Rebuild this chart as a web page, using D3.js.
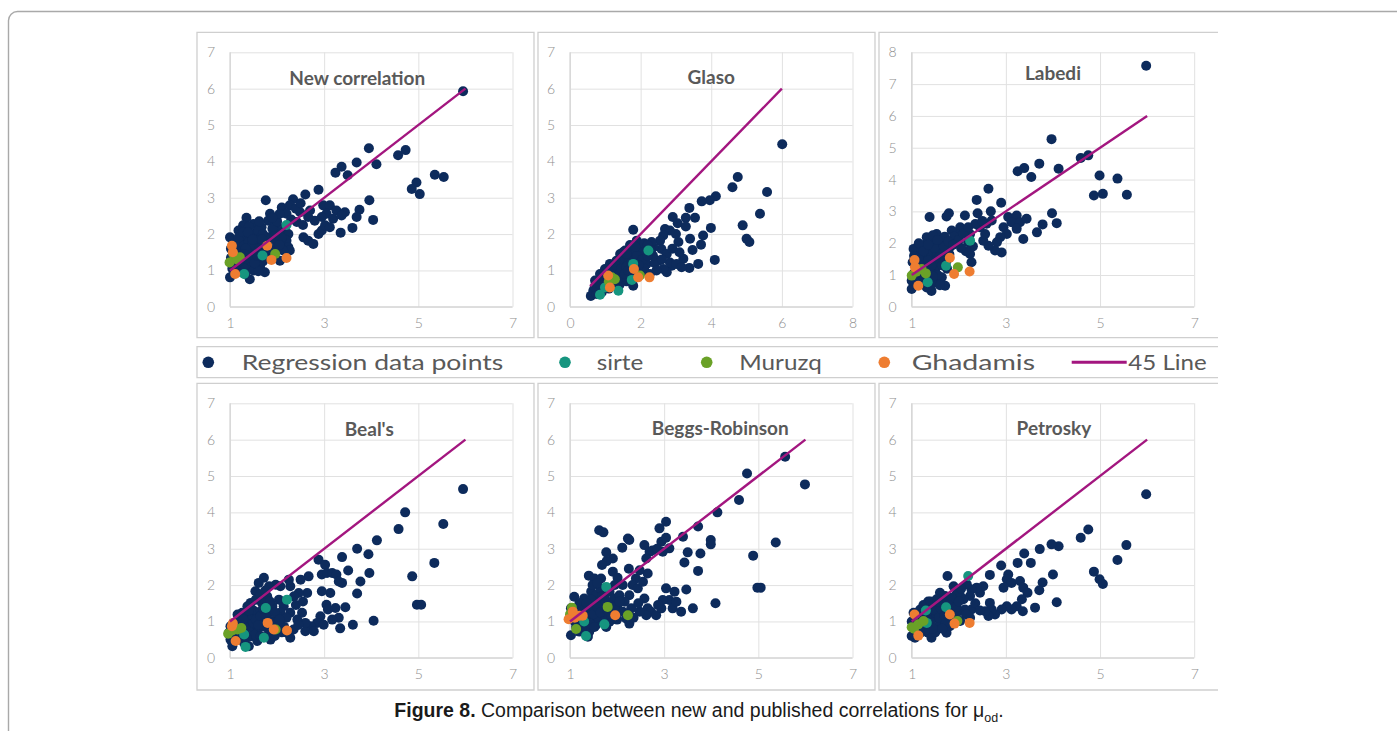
<!DOCTYPE html>
<html><head><meta charset="utf-8">
<script src="https://cdn.jsdelivr.net/npm/d3@7"></script>
<style>body{margin:0;background:#fff}svg{display:block}</style>
</head><body>
<svg id="fig" width="1397" height="731"></svg>
<script>
// ---------------- DATA ----------------
const panelTitles = ["New correlation","Glaso","Labedi","Beal's","Beggs-Robinson","Petrosky"];
const legendLabels = ["Regression data points","sirte","Muruzq","Ghadamis","45 Line"];
const xTicksStd = [1,3,5,7];
const xTicksGlaso = [0,2,4,6,8];
const yTicks7 = [0,1,2,3,4,5,6,7];
const yTicks8 = [0,1,2,3,4,5,6,7,8];
const lineStart = [1,0.57,1,1,1,1];
const lineEnd = [6,6,6,6,6,6];

const regNew = [[5.95,5.93],[3.95,4.36],[3.69,3.97],[4.11,3.92],[3.37,3.85],[3.24,3.69],[3.5,3.62],[4.57,4.17],[4.73,4.31],[5.35,3.63],[5.54,3.57],[4.96,3.42],[4.86,3.24],[5.03,3.1],[3.96,2.93],[4.04,2.39],[3.75,2.67],[3.69,2.47],[3.6,2.17],[3.35,2.04],[2.88,3.22],[2.6,3.09],[2.34,2.96],[1.76,2.93],[2.1,2.73],
[2.98,2.79],[3.12,2.79],[3.05,2.56],[3.26,2.65],[3.44,2.6],[3.19,2.42],[3.37,2.51],[2.95,2.47],[2.8,2.37],[2.7,2.65],[2.49,2.6],[2.66,2.47],[2.42,2.33],[2.56,1.91],[2.66,1.82],[2.77,1.73],[2.88,2.0],[2.95,2.1],[3.02,2.24],[3.12,2.19],[2.27,2.79],[2.2,2.56],[2.17,2.19],[2.24,2.0],[2.2,1.82],[2.24,1.64],[2.27,1.55],[1.99,2.28],[1.92,2.0],[1.85,2.56],[1.81,2.37],[1.67,2.19],[1.57,2.05],[1.5,2.28],[1.35,2.45],[1.28,2.24],[1.18,2.1],[1.0,1.91],[1.07,1.82],[1.21,1.78],[1.35,1.91],[1.42,1.64],[1.5,1.45],[1.57,1.27],[1.64,1.09],[1.74,0.95],[1.42,0.76],[1.32,0.9],[1.21,1.09],[1.0,0.81],[1.07,1.27],[1.14,1.45],[1.78,1.45],[1.85,1.55],[1.92,1.36],[1.67,1.64],[1.6,1.82],[1.78,1.91],[1.99,1.82],[2.06,2.05],[2.13,1.55],[2.06,1.27],
[1.1,1.6],[1.15,1.7],[1.25,1.55],[1.3,1.7],[1.4,1.8],[1.45,2.0],[1.55,1.9],[1.6,2.1],[1.7,2.0],[1.25,1.35],[1.35,1.25],[1.45,1.1],[1.55,1.55],[1.65,1.45],[1.72,1.7],[1.9,2.15],[2.0,2.35],[1.3,1.05],[1.15,0.95],[1.5,1.0],[1.6,0.98],[1.05,1.05],[1.2,1.25],[1.38,1.5],[1.48,1.72],[1.95,1.6],[2.1,1.9],[2.4,2.7],[2.5,2.85],[2.55,2.25],[2.3,2.4],[1.08,1.5],[1.7,1.25],[1.8,1.75],[2.05,2.55],[1.4,2.2],[1.62,2.35],[1.9,2.45],
[1.12,1.15],[1.22,1.45],[1.33,1.6],[1.43,1.35],[1.52,1.2],[1.62,1.6],[1.75,1.55],[1.85,1.85],[1.95,1.95],[2.05,1.7],[1.18,1.9],[1.28,2.05],[1.38,2.05],[1.48,1.85],[1.68,1.85],[1.58,1.4],[1.02,1.35],[1.02,1.6],[1.12,1.35],[1.3,1.45]];
const sirteNew = [[1.3,0.9],[1.69,1.41],[2.2,2.25]];
const muruzqNew = [[0.99,1.22],[1.21,1.36],[1.07,1.45],[1.96,1.45],[1.15,1.3]];
const ghadNew = [[1.04,1.68],[1.06,1.5],[1.11,0.9],[1.88,1.29],[2.2,1.34],[1.79,1.68]];

const regGlaso = [[6.01,4.47],[5.58,3.16],[5.38,2.56],[4.75,3.57],[4.6,3.29],[4.89,2.24],[5.0,1.87],[5.08,1.78],[4.13,3.04],[3.96,2.93],[4.1,1.29],[3.99,2.17],[3.73,2.9],[3.38,2.72],[3.54,2.45],[3.28,2.45],[2.91,2.47],[3.05,2.3],[3.28,2.21],[3.77,1.96],[3.71,1.71],[3.4,1.87],[3.47,1.56],[3.63,1.18],[3.38,1.07],[3.21,1.32],[3.07,1.78],[3.0,2.0],[2.83,2.1],[2.69,2.14],[2.64,1.96],[2.55,1.82],[2.59,1.59],[2.74,1.45],[2.88,1.13],[2.74,0.95],[2.64,1.04],[2.83,1.22],[3.02,1.18],[3.16,1.09],[2.5,1.27],[2.36,1.64],[2.31,1.78],[2.17,1.55],[2.08,1.41],[1.98,1.27],[2.17,1.18],[2.26,0.9],[2.03,0.95],[1.79,2.12],[1.89,1.82],[1.68,1.55],[1.56,1.55],[1.42,1.45],[1.32,1.27],[1.13,1.18],[0.99,1.04],[0.85,0.9],[0.71,0.72],[0.59,0.3],[0.66,0.44],[0.8,0.53],[0.94,0.63],[1.13,0.72],[1.27,0.81],[1.42,0.9],[1.56,0.99],[1.7,1.09],[1.79,0.58],[1.75,0.81],[1.6,1.27],[1.7,1.41],[1.79,1.45],[1.23,0.99],[1.08,0.9],[0.9,0.4],[0.75,0.35],[1.37,1.09],[1.51,1.18],
[1.2,1.1],[1.3,1.0],[1.45,1.2],[1.55,1.35],[1.65,1.2],[1.85,1.3],[1.9,1.1],[2.0,1.6],[2.1,1.75],[2.2,1.7],[1.95,1.5],[1.5,0.8],[1.6,0.7],[1.4,0.6],[1.25,0.6],[1.0,0.8],[0.9,0.7],[1.1,0.5],[1.85,0.95],[2.1,1.05],[2.4,1.2],[2.35,1.4],[1.7,1.7],[1.8,1.6],[1.5,1.5],[1.15,0.95],[2.45,1.0],[2.6,1.3],[2.9,1.6],[3.1,1.5],
[0.7,0.55],[0.85,0.6],[0.95,0.85],[1.05,1.0],[1.15,1.05],[1.3,1.15],[1.45,1.05],[1.6,1.1],[1.75,1.25],[1.9,1.4],[2.05,1.3],[2.2,1.4],[1.35,0.75],[1.55,0.9],[1.65,1.0],[1.05,0.65],[1.95,1.15],[2.3,1.55],[1.85,1.65],[1.6,1.45]];
const sirteGlaso = [[0.85,0.33],[0.99,0.53],[1.37,0.44],[1.75,0.74],[2.22,1.55],[1.79,1.18]];
const muruzqGlaso = [[1.27,0.76],[1.18,0.81],[1.98,0.86],[1.1,0.7]];
const ghadGlaso = [[1.13,0.53],[1.81,1.04],[1.93,0.81],[2.25,0.81],[1.08,0.86]];

const regLabedi = [[5.98,7.58],[3.97,5.27],[3.25,4.26],[3.39,4.36],[3.71,4.5],[3.54,4.08],[4.12,4.34],[4.59,4.68],[4.75,4.76],[4.99,4.13],[4.87,3.5],[5.06,3.55],[5.37,4.03],[5.57,3.52],[3.98,2.94],[4.08,2.63],[3.78,2.59],[3.66,2.34],[3.37,2.13],[2.63,3.71],[2.38,3.36],[2.9,3.27],[2.68,3.0],[2.4,2.94],[2.13,2.87],[1.79,2.94],[1.38,2.82],[1.74,2.84],[3.05,2.82],[3.23,2.87],[3.12,2.66],[3.3,2.66],[3.44,2.77],[2.95,2.5],[3.23,2.45],[3.02,2.29],[2.88,2.19],[2.81,2.03],[2.91,1.71],[2.77,1.77],[2.63,1.92],[2.52,2.08],[2.56,2.29],[2.45,2.5],[2.59,2.61],[2.7,2.71],[2.24,2.29],[2.2,2.03],[2.24,1.66],[2.27,1.4],[2.03,2.5],[1.96,2.29],[1.85,2.4],[1.96,2.03],[1.81,1.87],[1.71,1.66],[1.74,1.45],[1.64,0.93],[1.71,0.66],[1.42,0.5],[1.32,0.61],[1.0,0.56],[1.0,0.82],[1.04,1.82],[1.18,1.66],[1.32,2.19],[1.46,2.08],[1.53,2.29],[1.6,1.87],[1.39,1.45],[1.5,1.19],[1.25,1.03],[1.53,0.93],[1.11,1.24],[1.18,1.4],
[1.1,1.5],[1.2,1.8],[1.28,1.95],[1.4,1.75],[1.45,1.6],[1.55,1.65],[1.6,1.4],[1.65,2.05],[1.7,2.2],[1.9,2.2],[2.0,2.1],[2.1,2.3],[1.3,1.3],[1.4,1.1],[1.2,1.15],[1.05,1.05],[1.1,0.85],[1.35,0.85],[1.55,1.0],[1.75,1.2],[1.5,1.45],[1.25,1.55],[1.15,2.0],[1.05,1.6],[1.62,1.7],[1.8,1.65],[2.3,1.9],[2.35,2.6],[2.5,2.7],[2.2,2.5],[1.45,0.75],[1.6,0.68],[2.15,1.75],[1.33,1.7],
[1.08,1.3],[1.15,1.55],[1.22,1.3],[1.35,1.45],[1.42,1.3],[1.48,1.85],[1.58,1.55],[1.68,1.9],[1.78,2.05],[1.88,1.95],[1.25,1.75],[1.35,1.95],[1.45,2.25],[1.55,2.1],[1.02,1.4],[1.15,1.2],[1.65,1.3],[1.45,0.95],[1.25,0.85],[2.05,1.85]];
const sirteLabedi = [[1.34,0.77],[1.73,1.29],[2.24,2.08]];
const muruzqLabedi = [[1.0,0.98],[1.21,1.19],[1.98,1.24],[1.1,1.1],[1.3,1.05]];
const ghadLabedi = [[1.06,1.47],[1.07,1.24],[1.14,0.66],[1.81,1.54],[1.9,1.03],[2.23,1.11]];

const regBeal = [[5.95,4.64],[4.72,4.0],[4.58,3.54],[4.12,3.23],[3.7,3.0],[3.94,2.85],[3.38,2.77],[3.96,2.33],[3.77,2.1],[3.51,2.4],[3.7,1.77],[4.05,1.02],[3.61,0.91],[5.53,3.68],[5.34,2.61],[4.87,2.24],[4.97,1.46],[5.06,1.46],[2.88,2.7],[3.02,2.56],[2.95,2.29],[3.06,2.33],[3.17,2.33],[3.26,2.29],[3.38,2.06],[3.31,2.1],[3.13,1.78],[2.95,1.83],[3.05,1.46],[3.08,1.33],[3.24,1.37],[3.45,1.39],[3.31,1.1],[3.17,1.05],[3.34,0.81],[2.92,1.14],[2.85,0.96],[2.99,0.91],[2.71,0.87],[2.6,0.73],[2.78,0.73],[2.6,0.96],[2.53,1.24],[2.64,1.78],[2.67,2.24],[2.5,2.15],[2.46,1.78],[2.36,1.69],[2.28,1.97],[2.25,2.15],[2.07,1.97],[1.97,2.01],[1.83,1.97],[1.72,2.2],[1.61,2.06],[1.54,1.83],[1.79,1.69],[2.04,1.6],[2.14,1.42],[1.9,1.42],[1.68,1.51],[1.44,1.51],[1.37,1.42],[1.26,1.24],[1.16,1.19],[1.08,0.96],[1.01,0.87],[0.98,0.69],[1.01,0.5],[1.05,0.32],[1.16,0.5],[1.3,0.41],[1.44,0.59],[1.58,0.78],[1.68,0.96],[1.83,0.69],[1.86,0.5],[2.0,0.78],[2.07,0.96],[2.21,0.69],[2.28,0.55],[2.35,0.78],[2.43,1.05],[2.07,1.24],[2.28,1.24],[1.58,1.14],[1.44,0.96],[1.3,0.96],[1.23,0.69],[1.12,0.5],[1.4,0.32],[1.58,0.46],
[1.5,1.3],[1.6,1.25],[1.7,1.1],[1.8,1.2],[1.9,1.0],[2.0,1.15],[1.35,1.1],[1.25,0.85],[1.5,0.65],[1.65,0.6],[1.75,0.85],[1.95,0.6],[2.15,0.85],[1.2,1.05],[1.1,0.75],[1.45,1.25],[1.55,1.6],[1.65,1.75],[1.75,1.4],[1.85,1.55],[2.2,1.1],[2.4,1.45],[2.55,1.55],[2.45,0.9],
[1.1,0.95],[1.15,0.65],[1.2,0.9],[1.3,0.75],[1.35,0.55],[1.4,0.85],[1.45,1.05],[1.5,0.95],[1.55,1.05],[1.65,1.15],[1.7,1.35],[1.8,1.0],[1.85,0.85],[1.95,1.25],[2.05,1.05],[2.1,0.7],[1.6,0.9],[1.4,1.3],[1.28,1.05],[1.75,1.85]];
const sirteBeal = [[1.3,0.64],[1.33,0.3],[1.72,0.55],[1.76,1.37],[2.21,1.6]];
const muruzqBeal = [[0.96,0.66],[1.16,0.78],[1.24,0.82],[1.97,0.78],[1.05,0.75]];
const ghadBeal = [[1.04,0.87],[1.12,0.46],[1.8,0.96],[1.93,0.78],[2.21,0.75],[1.06,0.95]];

const regBeggs = [[5.99,4.77],[5.57,5.53],[5.37,3.17],[4.89,2.81],[4.98,1.93],[5.05,1.93],[4.76,5.07],[4.59,4.34],[4.13,4.0],[3.99,3.24],[3.99,3.12],[3.72,3.61],[3.4,3.33],[3.77,2.87],[3.72,2.39],[3.5,2.9],[3.43,2.62],[3.47,1.88],[3.36,1.27],[3.61,1.36],[4.09,1.5],[3.04,3.74],[2.9,3.56],[2.94,3.19],[3.04,3.3],[3.11,3.01],[2.97,2.92],[2.58,3.1],[2.69,2.92],[2.62,2.73],[2.65,2.32],[2.48,2.41],[2.4,2.18],[2.33,2.0],[2.23,3.28],[2.26,3.24],[2.11,3.03],[1.91,2.73],[1.78,2.66],[1.68,2.55],[1.62,3.51],[1.71,3.45],[1.77,2.9],[1.91,2.37],[1.4,2.26],[1.52,2.18],[1.66,2.18],[2.01,2.2],[2.12,2.0],[2.26,1.72],[2.3,1.36],[2.19,1.08],[2.26,0.94],[2.44,1.91],[2.55,2.09],[2.58,1.63],[2.65,1.36],[2.72,1.27],[2.83,1.17],[2.94,1.36],[3.04,1.91],[3.11,1.59],[3.22,1.82],[3.18,1.36],[3.26,1.54],[2.97,1.59],[2.87,1.45],[2.62,1.17],[2.48,1.27],[1.09,1.68],[1.02,1.36],[0.99,1.08],[1.02,0.62],[1.13,0.85],[1.2,0.72],[1.27,1.08],[1.34,1.27],[1.41,1.45],[1.3,1.63],[1.45,1.82],[1.48,2.0],[1.55,1.72],[1.62,1.54],[1.7,1.36],[1.77,1.17],[1.84,0.99],[1.77,0.85],[1.55,0.9],[1.41,0.72],[1.38,0.58],[1.23,0.9],[1.84,1.82],[1.94,1.63],[2.05,1.72],[2.01,1.36],[2.12,1.27],[1.91,1.27],[2.16,1.54],[1.55,1.27],[1.48,1.08],
[1.15,1.2],[1.25,1.4],[1.35,1.05],[1.45,1.3],[1.6,1.1],[1.65,1.9],[1.75,1.6],[1.85,1.45],[1.5,1.55],[1.2,1.5],[1.1,1.0],[1.3,0.8],[2.0,1.05],[2.35,1.1],[2.45,1.5],[1.95,2.0],[1.58,2.05],[1.05,1.2],[2.25,2.45],[2.75,2.95],[2.85,3.0],
[1.1,1.3],[1.15,0.95],[1.22,1.25],[1.32,1.35],[1.38,1.15],[1.42,0.95],[1.5,1.2],[1.58,1.4],[1.65,1.25],[1.72,1.0],[1.8,1.3],[1.88,1.15],[1.95,1.4],[1.25,0.75],[1.45,1.6],[1.68,1.7],[2.05,1.55],[1.18,1.05],[1.35,1.5],[1.52,0.85]];
const sirteBeggs = [[1.34,0.6],[1.77,1.95],[1.73,0.92],[1.3,1.0]];
const muruzqBeggs = [[1.04,1.38],[1.13,0.79],[1.8,1.4],[2.23,1.17],[1.0,1.2]];
const ghadBeggs = [[0.97,1.06],[1.06,1.27],[1.2,1.16],[1.27,1.16],[1.96,1.17],[1.1,1.1]];

const regPetrosky = [[5.98,4.5],[5.56,3.1],[5.37,2.69],[4.87,2.37],[4.99,2.16],[5.06,2.03],[4.75,3.53],[4.59,3.3],[4.12,3.07],[3.97,3.12],[3.72,2.99],[4.0,2.29],[4.08,1.53],[3.78,2.07],[3.71,1.86],[3.62,1.38],[3.53,2.61],[3.39,2.87],[3.25,2.61],[2.9,2.54],[2.66,2.28],[3.05,2.29],[3.02,2.16],[3.12,2.06],[2.95,1.93],[3.3,2.11],[3.37,1.93],[3.46,1.79],[3.34,1.61],[3.23,1.42],[3.36,1.28],[3.12,1.33],[3.02,1.42],[2.91,1.33],[2.77,1.19],[2.7,1.33],[2.63,1.15],[2.56,1.28],[2.66,1.51],[2.45,1.79],[2.52,1.97],[2.38,1.93],[2.27,1.88],[2.17,2.02],[2.24,1.7],[2.27,1.33],[2.24,1.1],[2.13,1.33],[2.1,1.61],[2.03,1.7],[1.92,1.51],[1.89,1.97],[1.76,2.25],[1.71,1.7],[1.6,1.79],[1.53,1.61],[1.42,1.42],[1.32,1.38],[1.18,1.33],[1.04,1.24],[1.0,0.6],[1.07,0.55],[1.25,0.87],[1.35,0.69],[1.42,0.55],[1.57,0.83],[1.74,0.69],[1.64,1.06],[1.81,0.87],[1.89,1.06],[1.5,1.1],[1.28,1.06],[1.14,0.87],[1.46,1.24],[1.96,1.24],[2.03,1.01],
[1.1,1.1],[1.2,1.2],[1.3,1.2],[1.4,1.0],[1.55,1.35],[1.65,1.5],[1.75,1.25],[1.85,1.4],[1.95,1.75],[2.05,1.9],[1.6,0.95],[1.5,0.7],[1.2,0.7],[1.0,1.0],[1.35,1.55],[1.7,1.6],[1.8,1.1],[2.15,1.2],[1.45,1.45],[1.25,1.45],[2.35,1.5],[2.45,1.3],[1.85,1.65],
[1.1,0.95],[1.15,1.25],[1.22,1.0],[1.32,1.1],[1.38,1.3],[1.45,0.8],[1.5,1.3],[1.58,1.1],[1.62,1.35],[1.7,1.15],[1.78,1.45],[1.88,1.25],[1.95,1.4],[2.0,1.55],[1.28,0.75],[1.4,1.55],[1.55,1.55],[1.18,0.85],[1.72,0.95],[1.65,0.8]];
const sirtePetrosky = [[1.32,0.96],[1.73,1.39],[2.2,2.25],[1.3,1.3]];
const muruzqPetrosky = [[1.0,0.84],[1.14,0.92],[1.25,1.01],[1.97,1.01],[1.05,0.8]];
const ghadPetrosky = [[1.06,1.19],[1.14,0.61],[1.81,1.19],[1.91,0.94],[2.23,0.96]];

// ---------------- STYLE / LAYOUT ----------------
const colors = {reg:"#0d2b5c", sirte:"#16957f", muruzq:"#6aa127", ghad:"#ee7d31", line:"#a3167f"};
const panels = [
  {reg:regNew, sirte:sirteNew, muruzq:muruzqNew, ghad:ghadNew, xd:[1,7], xt:xTicksStd, yd:[0,7], yt:yTicks7},
  {reg:regGlaso, sirte:sirteGlaso, muruzq:muruzqGlaso, ghad:ghadGlaso, xd:[0,8], xt:xTicksGlaso, yd:[0,7], yt:yTicks7},
  {reg:regLabedi, sirte:sirteLabedi, muruzq:muruzqLabedi, ghad:ghadLabedi, xd:[1,7], xt:xTicksStd, yd:[0,8], yt:yTicks8},
  {reg:regBeal, sirte:sirteBeal, muruzq:muruzqBeal, ghad:ghadBeal, xd:[1,7], xt:xTicksStd, yd:[0,7], yt:yTicks7},
  {reg:regBeggs, sirte:sirteBeggs, muruzq:muruzqBeggs, ghad:ghadBeggs, xd:[1,7], xt:xTicksStd, yd:[0,7], yt:yTicks7},
  {reg:regPetrosky, sirte:sirtePetrosky, muruzq:muruzqPetrosky, ghad:ghadPetrosky, xd:[1,7], xt:xTicksStd, yd:[0,7], yt:yTicks7}
];
const titleDx = [-14, 0, 0, -2, 9, 1];
const titleDy = [33, 32, 28, 33, 32, 32];
const colLeft = [230, 570, 911.7];
const rowTop = [52.3, 403.3];
const PW = 282.5, PH = 254.5;
const boxCols = [[197,534],[538,875],[879,1218]];
const boxRows = [[32.3,337.7],[383.3,690]];

const svg = d3.select("#fig");
const tickFont = "Lato, 'Open Sans', sans-serif";

// outer frame
svg.append("rect").attr("x",8.5).attr("y",11.5).attr("width",1500).attr("height",900)
  .attr("rx",9).attr("fill","none").attr("stroke","#a9a9a9").attr("stroke-width",1.4);

// panel boxes
function box(x0,y0,x1,y1,right){
  const p = right ? `M${x0},${y0}H${x1}V${y1}H${x0}Z` : `M${x1},${y0}H${x0}V${y1}H${x1}`;
  svg.append("path").attr("d",p).attr("fill","none").attr("stroke","#cfcfcf").attr("stroke-width",1.3);
}
for(let r=0;r<2;r++) for(let c=0;c<3;c++) box(boxCols[c][0],boxRows[r][0],boxCols[c][1],boxRows[r][1],c<2);
box(197,346.7,1218,377.7,false);

panels.forEach((p,i)=>{
  const c=i%3, r=Math.floor(i/3);
  const g = svg.append("g").attr("transform",`translate(${colLeft[c]},${rowTop[r]})`);
  const x = d3.scaleLinear().domain(p.xd).range([0,PW]);
  const y = d3.scaleLinear().domain(p.yd).range([PH,0]);
  // gridlines
  const gx = g.append("g").attr("transform",`translate(0,${PH})`)
    .call(d3.axisBottom(x).tickValues(p.xt).tickSize(-PH).tickFormat(""));
  const gy = g.append("g").call(d3.axisLeft(y).tickValues(p.yt).tickSize(-PW).tickFormat(""));
  [gx,gy].forEach(a=>{a.select(".domain").remove(); a.selectAll("line").attr("stroke","#e1e1e1").attr("stroke-width",1);});
  // axis lines
  g.append("line").attr("x1",0).attr("x2",PW).attr("y1",PH).attr("y2",PH).attr("stroke","#d4d4d4").attr("stroke-width",1.2);
  g.append("line").attr("x1",0).attr("x2",0).attr("y1",0).attr("y2",PH).attr("stroke","#d4d4d4").attr("stroke-width",1.2);
  // tick labels
  const fmt = d3.format("d");
  const lx = g.append("g").attr("transform",`translate(0,${PH})`)
    .call(d3.axisBottom(x).tickValues(p.xt).tickFormat(fmt).tickSize(0).tickPadding(11));
  const ly = g.append("g").call(d3.axisLeft(y).tickValues(p.yt).tickFormat(fmt).tickSize(0).tickPadding(15));
  [lx,ly].forEach(a=>{a.select(".domain").remove();
    a.selectAll("text").attr("fill","#8f8f8f").attr("font-family",tickFont).attr("font-weight",300).attr("font-size","14px");});
  // title
  g.append("text").attr("x",PW/2+titleDx[i]).attr("y",titleDy[i]).attr("text-anchor","middle")
    .attr("font-family","Lato, 'Open Sans', sans-serif").attr("font-weight",700).attr("font-size","19px")
    .attr("fill","#595959").text(panelTitles[i]);
  // points
  const R = 5;
  [["reg",p.reg],["sirte",p.sirte],["muruzq",p.muruzq],["ghad",p.ghad]].forEach(([k,arr])=>{
    g.append("g").selectAll("circle").data(arr).join("circle")
      .attr("cx",d=>x(d[0])).attr("cy",d=>y(d[1])).attr("r",R).attr("fill",colors[k]);
  });
  // 45 line
  g.append("path").datum([lineStart[i],lineEnd[i]])
    .attr("d",d3.line().x(d=>x(d)).y(d=>y(d)))
    .attr("stroke",colors.line).attr("stroke-width",2.4).attr("fill","none");
});

// legend
const lg = svg.append("g");
const legDot = [208.3,565,706.7,884.3];
const legText = [[241.7,261.6],[596.7,46.6],[739.3,82.4],[911.7,123.3],[1128.3,78.4]];
const legKeys = ["reg","sirte","muruzq","ghad"];
legDot.forEach((cx,k)=>lg.append("circle").attr("cx",cx).attr("cy",362.3).attr("r",5.8).attr("fill",colors[legKeys[k]]));
lg.append("line").attr("x1",1071.7).attr("x2",1126.7).attr("y1",362.3).attr("y2",362.3).attr("stroke",colors.line).attr("stroke-width",3);
legendLabels.forEach((t,k)=>lg.append("text").attr("x",legText[k][0]).attr("y",369.5)
  .attr("font-family","Lato, 'Open Sans', sans-serif").attr("font-size","21px").attr("fill","#595959")
  .attr("textLength",legText[k][1]).attr("lengthAdjust","spacingAndGlyphs").text(t));

// caption
const cap = svg.append("text").attr("x",699).attr("y",717).attr("text-anchor","middle")
  .attr("font-family","'Liberation Sans', Arial, sans-serif").attr("font-size","19.5px").attr("fill","#1a1a1a");
cap.append("tspan").attr("font-weight","bold").text("Figure 8.");
cap.append("tspan").text(" Comparison between new and published correlations for μ");
cap.append("tspan").attr("font-size","12.5px").attr("dy",5).text("od");
cap.append("tspan").attr("dy",-5).text(".");
</script>
</body></html>
